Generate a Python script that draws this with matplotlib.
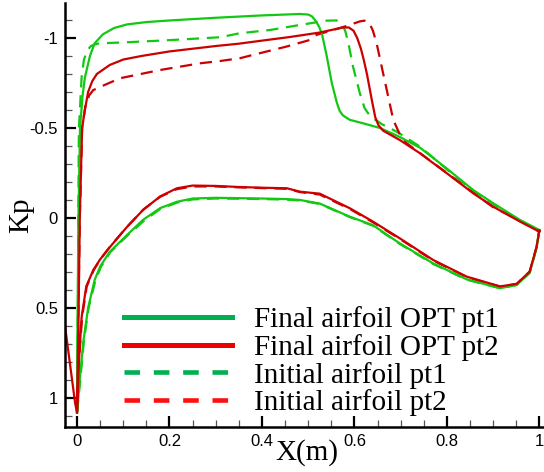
"""Pressure coefficient distributions, initial vs optimised airfoil."""

import matplotlib

matplotlib.use("Agg")

import matplotlib.pyplot as plt
from matplotlib.lines import Line2D
from matplotlib.ticker import MultipleLocator

# ---- data (x in m, Kp) ----
# stray branch drawn past the leading edge
red_stray_x = [-0.03, -0.026, -0.004, 0.0]
red_stray_kp = [0.52, 0.6, 1.03, 1.08]

# final airfoil, point 1 (green solid)
opt1_up_x = [0.0, 0.001, 0.003, 0.0065, 0.012, 0.017, 0.028, 0.038, 0.056, 0.08, 0.108,
             0.15, 0.2, 0.3, 0.4, 0.482, 0.5, 0.508, 0.513, 0.519, 0.524, 0.53, 0.54,
             0.551, 0.562, 0.568, 0.575, 0.59, 0.62, 0.655, 0.698, 0.742, 0.8, 0.857,
             0.9, 0.958, 1.0]
opt1_up_kp = [1.08, 0.6, 0.0, -0.5, -0.68, -0.78, -0.9, -0.97, -1.02, -1.055, -1.075,
              -1.088, -1.097, -1.112, -1.125, -1.133, -1.13, -1.12, -1.105, -1.083, -1.06,
              -1.02, -0.9, -0.75, -0.64, -0.595, -0.57, -0.545, -0.525, -0.5, -0.45,
              -0.39, -0.274, -0.155, -0.082, 0.011, 0.067]
opt1_lo_x = [0.0, 0.0065, 0.014, 0.024, 0.038, 0.05, 0.07, 0.108, 0.143, 0.18, 0.216,
             0.25, 0.3, 0.35, 0.4, 0.454, 0.482, 0.525, 0.59, 0.64, 0.698, 0.77, 0.843,
             0.915, 0.951, 0.979, 0.994, 1.0]
opt1_lo_kp = [1.08, 0.88, 0.68, 0.5, 0.345, 0.27, 0.19, 0.095, 0.01, -0.055, -0.09,
              -0.108, -0.112, -0.11, -0.108, -0.105, -0.1, -0.08, -0.007, 0.04, 0.141,
              0.252, 0.341, 0.39, 0.372, 0.305, 0.165, 0.067]

# final airfoil, point 2 (red solid)
opt2_up_x = [0.0, 0.003, 0.006, 0.011, 0.017, 0.024, 0.033, 0.043, 0.071, 0.1, 0.14,
             0.2, 0.25, 0.3, 0.35, 0.4, 0.46, 0.525, 0.575, 0.588, 0.598, 0.606, 0.614,
             0.62, 0.627, 0.638, 0.645, 0.652, 0.662, 0.698, 0.742, 0.8, 0.857, 0.9,
             0.958, 1.0]
opt2_up_kp = [1.08, 0.6, 0.0, -0.5, -0.6, -0.7, -0.76, -0.8, -0.85, -0.88, -0.9,
              -0.925, -0.94, -0.955, -0.968, -0.985, -1.005, -1.03, -1.058, -1.058,
              -1.04, -1.0, -0.94, -0.88, -0.8, -0.65, -0.56, -0.515, -0.485, -0.433,
              -0.359, -0.248, -0.137, -0.063, 0.02, 0.076]
opt2_lo_x = [0.0, 0.004, 0.01, 0.02, 0.035, 0.05, 0.07, 0.108, 0.143, 0.18, 0.216,
             0.25, 0.3, 0.35, 0.4, 0.454, 0.482, 0.525, 0.59, 0.64, 0.698, 0.77, 0.843,
             0.915, 0.951, 0.979, 0.994, 1.0]
opt2_lo_kp = [1.08, 0.8, 0.55, 0.38, 0.29, 0.23, 0.165, 0.05, -0.045, -0.12, -0.165,
              -0.18, -0.178, -0.172, -0.168, -0.165, -0.146, -0.135, -0.054, 0.02, 0.113,
              0.233, 0.326, 0.38, 0.366, 0.298, 0.16, 0.067]

# initial airfoil, point 1 (green dashed)
init1_up_x = [0.0, 0.002, 0.0036, 0.0043, 0.01, 0.015, 0.022, 0.03, 0.04, 0.048, 0.1,
              0.18, 0.25, 0.31, 0.352, 0.417, 0.482, 0.54, 0.562, 0.572, 0.58, 0.587,
              0.597, 0.612, 0.622, 0.634, 0.66, 0.691, 0.742, 0.8, 0.857, 0.9, 0.958, 1.0]
init1_up_kp = [1.08, 0.5, -0.38, -0.507, -0.785, -0.88, -0.93, -0.955, -0.965, -0.97,
               -0.975, -0.985, -0.995, -1.004, -1.026, -1.044, -1.072, -1.096, -1.097,
               -1.08, -1.04, -0.97, -0.84, -0.69, -0.61, -0.565, -0.52, -0.48, -0.396,
               -0.27, -0.15, -0.078, 0.015, 0.07]
init1_lo_x = [0.0, 0.007, 0.015, 0.025, 0.04, 0.052, 0.072, 0.11, 0.145, 0.18, 0.216,
              0.25, 0.3, 0.35, 0.4, 0.454, 0.482, 0.525, 0.59, 0.64, 0.698, 0.77, 0.843,
              0.915, 0.951, 0.979, 0.994, 1.0]
init1_lo_kp = [1.08, 0.9, 0.68, 0.5, 0.345, 0.27, 0.19, 0.095, 0.015, -0.05, -0.085,
               -0.103, -0.108, -0.107, -0.105, -0.102, -0.097, -0.078, -0.005, 0.043,
               0.144, 0.255, 0.343, 0.39, 0.372, 0.305, 0.165, 0.067]

# initial airfoil, point 2 (red dashed)
init2_up_x = [0.0, 0.003, 0.006, 0.011, 0.018, 0.026, 0.035, 0.043, 0.093, 0.18, 0.266,
              0.31, 0.352, 0.381, 0.453, 0.504, 0.518, 0.579, 0.612, 0.622, 0.632, 0.64,
              0.648, 0.662, 0.67, 0.684, 0.698, 0.713, 0.742, 0.8, 0.857, 0.9, 0.958, 1.0]
init2_up_kp = [1.08, 0.5, 0.0, -0.5, -0.62, -0.68, -0.71, -0.72, -0.776, -0.822, -0.859,
               -0.872, -0.887, -0.906, -0.952, -0.989, -1.017, -1.063, -1.092, -1.096,
               -1.085, -1.04, -0.97, -0.804, -0.71, -0.545, -0.465, -0.415, -0.36, -0.25,
               -0.14, -0.06, 0.015, 0.076]
init2_lo_x = [0.0, 0.004, 0.011, 0.021, 0.036, 0.051, 0.071, 0.109, 0.144, 0.18, 0.216,
              0.25, 0.3, 0.35, 0.4, 0.454, 0.482, 0.525, 0.59, 0.64, 0.698, 0.77, 0.843,
              0.915, 0.951, 0.979, 0.994, 1.0]
init2_lo_kp = [1.08, 0.8, 0.55, 0.38, 0.29, 0.228, 0.16, 0.047, -0.048, -0.118, -0.16,
               -0.175, -0.175, -0.17, -0.166, -0.162, -0.144, -0.13, -0.05, 0.024, 0.116,
               0.236, 0.328, 0.382, 0.366, 0.298, 0.16, 0.067]

labels = ["Final airfoil OPT pt1", "Final airfoil OPT pt2",
          "Initial airfoil pt1", "Initial airfoil pt2"]
x_ticks = [0, 0.2, 0.4, 0.6, 0.8, 1]
x_tick_labels = ["0", "0.2", "0.4", "0.6", "0.8", "1"]
y_ticks = [-1, -0.5, 0, 0.5, 1]
y_tick_labels = ["-1", "-0.5", "0", "0.5", "1"]

GREEN = "#12c812"
RED = "#cc0000"
DASH = (0, (5.5, 3.5))


def _closed(up_x, up_kp, lo_x, lo_kp):
    # lower surface LE -> TE, then upper surface TE -> LE
    return list(lo_x) + list(reversed(up_x)), list(lo_kp) + list(reversed(up_kp))


def main() -> None:
    plt.rcParams["axes.unicode_minus"] = False
    fig = plt.figure(figsize=(5.44, 4.72), dpi=100)
    ax = fig.add_axes([65 / 544, 1 - 427 / 472, 1 - 65 / 544, 424 / 472])

    x, kp = _closed(init1_up_x, init1_up_kp, init1_lo_x, init1_lo_kp)
    ax.plot(x, kp, color=GREEN, lw=1.6, linestyle=DASH)
    x, kp = _closed(init2_up_x, init2_up_kp, init2_lo_x, init2_lo_kp)
    ax.plot(x, kp, color=RED, lw=1.6, linestyle=DASH)
    x, kp = _closed(opt1_up_x, opt1_up_kp, opt1_lo_x, opt1_lo_kp)
    ax.plot(x, kp, color=GREEN, lw=1.6)
    x, kp = _closed(opt2_up_x, opt2_up_kp, opt2_lo_x, opt2_lo_kp)
    ax.plot(red_stray_x + x, red_stray_kp + kp, color=RED, lw=1.6)

    ax.set_xlim(-0.026, 1.01)
    ax.set_ylim(1.161, -1.194)

    for side in ("top", "right"):
        ax.spines[side].set_visible(False)
    for side in ("left", "bottom"):
        ax.spines[side].set_linewidth(1.8)

    ax.set_xticks(x_ticks)
    ax.set_xticklabels(x_tick_labels)
    ax.set_yticks(y_ticks)
    ax.set_yticklabels(y_tick_labels)
    ax.xaxis.set_minor_locator(MultipleLocator(0.05))
    ax.yaxis.set_minor_locator(MultipleLocator(0.1))
    ax.tick_params(which="major", direction="in", length=8, width=1.6,
                   labelsize=12, pad=5)
    ax.tick_params(which="minor", direction="in", length=5, width=0.9, color="#555555")
    for lab in ax.get_xticklabels() + ax.get_yticklabels():
        lab.set_family("Liberation Sans")

    ax.set_xlabel("X(m)", family="Liberation Serif", fontsize=21)
    ax.xaxis.set_label_coords(0.505, -0.028)
    ax.set_ylabel("Kp", family="Liberation Serif", fontsize=21)
    ax.yaxis.set_label_coords(-0.065, 0.5)

    handles = [
        Line2D([], [], color="#00b050", lw=3.6),
        Line2D([], [], color="#ee0000", lw=3.6),
        Line2D([], [], color="#00b050", lw=3.3, linestyle=(0, (3.4, 3.0))),
        Line2D([], [], color="#ff1010", lw=3.3, linestyle=(0, (3.4, 3.0))),
    ]
    ax.legend(handles, labels, loc="upper left",
              bbox_to_anchor=(124 / 544, 1 - 306 / 472), bbox_transform=fig.transFigure,
              frameon=False, borderpad=0, borderaxespad=0, handlelength=3.7,
              handletextpad=0.75, labelspacing=0.03,
              prop={"family": "Liberation Serif", "size": 21})

    fig.savefig("out.png", dpi=100)
    plt.close(fig)


if __name__ == "__main__":
    main()
